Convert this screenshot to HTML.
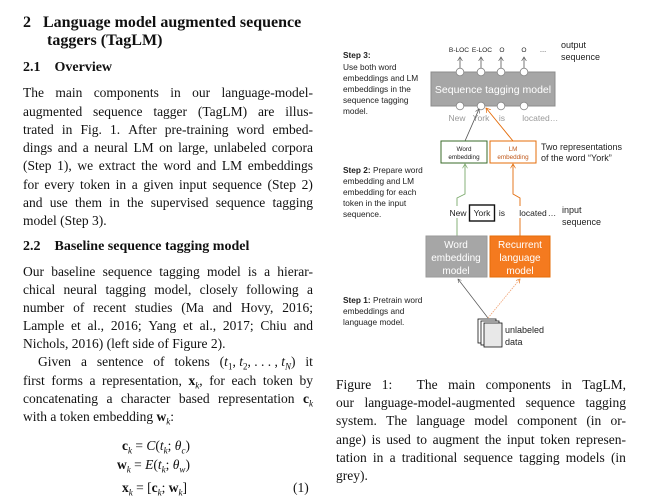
<!DOCTYPE html>
<html><head><meta charset="utf-8"><style>
body{margin:0;width:653px;height:498px;background:#fff;position:relative;overflow:hidden;font-family:"Liberation Serif",serif;color:#111}
.l{position:absolute;font-size:13.5px;line-height:18px;height:18px;white-space:nowrap}
.j{position:absolute;font-size:13.5px;line-height:18px;height:18px;white-space:nowrap;display:flex;justify-content:space-between}
.b{font-weight:bold}
sub{font-size:9px;line-height:0}
svg text{font-family:"Liberation Sans",sans-serif}
</style></head><body>
<div class="l b" style="left:23px;top:14px;font-size:16px">2&nbsp;&nbsp;&nbsp;Language model augmented sequence</div>
<div class="l b" style="left:47px;top:32px;font-size:16px">taggers (TagLM)</div>
<div class="l b" style="left:23px;top:59px;font-size:14px">2.1&nbsp;&nbsp;&nbsp;&nbsp;Overview</div>
<div class="j" style="left:23px;width:290px;top:84px"><span>The</span><span>main</span><span>components</span><span>in</span><span>our</span><span>language-model-</span></div>
<div class="j" style="left:23px;width:290px;top:103px"><span>augmented</span><span>sequence</span><span>tagger</span><span>(TagLM)</span><span>are</span><span>illus-</span></div>
<div class="j" style="left:23px;width:290px;top:121px"><span>trated</span><span>in</span><span>Fig.</span><span>1.</span><span>After</span><span>pre-training</span><span>word</span><span>embed-</span></div>
<div class="j" style="left:23px;width:290px;top:139px"><span>dings</span><span>and</span><span>a</span><span>neural</span><span>LM</span><span>on</span><span>large,</span><span>unlabeled</span><span>corpora</span></div>
<div class="j" style="left:23px;width:290px;top:157px"><span>(Step</span><span>1),</span><span>we</span><span>extract</span><span>the</span><span>word</span><span>and</span><span>LM</span><span>embeddings</span></div>
<div class="j" style="left:23px;width:290px;top:176px"><span>for</span><span>every</span><span>token</span><span>in</span><span>a</span><span>given</span><span>input</span><span>sequence</span><span>(Step</span><span>2)</span></div>
<div class="j" style="left:23px;width:290px;top:194px"><span>and</span><span>use</span><span>them</span><span>in</span><span>the</span><span>supervised</span><span>sequence</span><span>tagging</span></div>
<div class="l" style="left:23px;top:212px">model (Step 3).</div>
<div class="l b" style="left:23px;top:238px;font-size:14px">2.2&nbsp;&nbsp;&nbsp;&nbsp;Baseline sequence tagging model</div>
<div class="j" style="left:23px;width:290px;top:263px"><span>Our</span><span>baseline</span><span>sequence</span><span>tagging</span><span>model</span><span>is</span><span>a</span><span>hierar-</span></div>
<div class="j" style="left:23px;width:290px;top:281px"><span>chical</span><span>neural</span><span>tagging</span><span>model,</span><span>closely</span><span>following</span><span>a</span></div>
<div class="j" style="left:23px;width:290px;top:299px"><span>number</span><span>of</span><span>recent</span><span>studies</span><span>(Ma</span><span>and</span><span>Hovy,</span><span>2016;</span></div>
<div class="j" style="left:23px;width:290px;top:317px"><span>Lample</span><span>et</span><span>al.,</span><span>2016;</span><span>Yang</span><span>et</span><span>al.,</span><span>2017;</span><span>Chiu</span><span>and</span></div>
<div class="l" style="left:23px;top:335px">Nichols, 2016) (left side of Figure 2).</div>
<div class="j" style="left:38px;width:275px;top:353px"><span>Given</span><span>a</span><span>sentence</span><span>of</span><span>tokens</span><span>(<i>t</i><sub>1</sub>,&nbsp;<i>t</i><sub>2</sub>,&nbsp;.&nbsp;.&nbsp;.&nbsp;,&nbsp;<i>t</i><sub><i>N</i></sub>)</span><span>it</span></div>
<div class="j" style="left:23px;width:290px;top:372px"><span>first</span><span>forms</span><span>a</span><span>representation,</span><span><b>x</b><sub><i>k</i></sub>,</span><span>for</span><span>each</span><span>token</span><span>by</span></div>
<div class="j" style="left:23px;width:290px;top:390px"><span>concatenating</span><span>a</span><span>character</span><span>based</span><span>representation</span><span><b>c</b><sub><i>k</i></sub></span></div>
<div class="l" style="left:23px;top:408px">with a token embedding <b>w</b><sub><i>k</i></sub>:</div>
<div class="l" style="left:122px;top:437px"><b>c</b><sub><i>k</i></sub> = <i>C</i>(<i>t<sub>k</sub></i>; <i>θ<sub>c</sub></i>)</div>
<div class="l" style="left:117px;top:456px"><b>w</b><sub><i>k</i></sub> = <i>E</i>(<i>t<sub>k</sub></i>; <i>θ<sub>w</sub></i>)</div>
<div class="l" style="left:122px;top:479px"><b>x</b><sub><i>k</i></sub> = [<b>c</b><sub><i>k</i></sub>; <b>w</b><sub><i>k</i></sub>]</div>
<div class="l" style="left:293px;top:479px">(1)</div>

<div class="j" style="left:336px;width:290px;top:376px"><span>Figure</span><span>1:</span><span>&nbsp;</span><span>The</span><span>main</span><span>components</span><span>in</span><span>TagLM,</span></div>
<div class="j" style="left:336px;width:290px;top:394px"><span>our</span><span>language-model-augmented</span><span>sequence</span><span>tagging</span></div>
<div class="j" style="left:336px;width:290px;top:412px"><span>system.</span><span>The</span><span>language</span><span>model</span><span>component</span><span>(in</span><span>or-</span></div>
<div class="j" style="left:336px;width:290px;top:431px"><span>ange)</span><span>is</span><span>used</span><span>to</span><span>augment</span><span>the</span><span>input</span><span>token</span><span>represen-</span></div>
<div class="j" style="left:336px;width:290px;top:449px"><span>tation</span><span>in</span><span>a</span><span>traditional</span><span>sequence</span><span>tagging</span><span>models</span><span>(in</span></div>
<div class="l" style="left:336px;top:467px">grey).</div>

<svg style="position:absolute;left:0;top:0" width="653" height="498" font-size="8.3">
<defs>
<marker id="ag" markerWidth="6" markerHeight="6" refX="5" refY="3" orient="auto"><path d="M0,0 L5,3 L0,6" fill="none" stroke="#555" stroke-width="0.8"/></marker>
<marker id="ao" markerWidth="6" markerHeight="6" refX="5" refY="3" orient="auto"><path d="M0,0 L5,3 L0,6" fill="none" stroke="#e46c0a" stroke-width="0.8"/></marker>
<marker id="agr" markerWidth="6" markerHeight="6" refX="5" refY="3" orient="auto"><path d="M0,0 L5,3 L0,6" fill="none" stroke="#7aa86a" stroke-width="0.8"/></marker>
</defs>
<g fill="#222">
<text x="343" y="58" font-weight="bold">Step 3:</text>
<text x="343" y="70">Use both word</text>
<text x="343" y="81">embeddings and LM</text>
<text x="343" y="92">embeddings in the</text>
<text x="343" y="103">sequence tagging</text>
<text x="343" y="114">model.</text>
<text x="343" y="173"><tspan font-weight="bold">Step 2:</tspan> Prepare word</text>
<text x="343" y="184">embedding and LM</text>
<text x="343" y="195">embedding for each</text>
<text x="343" y="206">token in the input</text>
<text x="343" y="217">sequence.</text>
<text x="343" y="303"><tspan font-weight="bold">Step 1:</tspan> Pretrain word</text>
<text x="343" y="314">embeddings and</text>
<text x="343" y="325">language model.</text>
<text x="561" y="48" font-size="9">output</text>
<text x="561" y="60" font-size="9">sequence</text>
<text x="541" y="150" font-size="9">Two representations</text>
<text x="541" y="161" font-size="9">of the word “York”</text>
<text x="562" y="213" font-size="9">input</text>
<text x="562" y="225" font-size="9">sequence</text>
<text x="505" y="333" font-size="9">unlabeled</text>
<text x="505" y="345" font-size="9">data</text>
</g>
<g font-size="6.6" text-anchor="middle" fill="#222">
<text x="459" y="52">B-LOC</text><text x="482" y="52">E-LOC</text><text x="502" y="52">O</text><text x="524" y="52">O</text><text x="543" y="52">…</text>
</g>
<g stroke="#555" stroke-width="0.8" fill="none">
<line x1="460" y1="68" x2="460" y2="57" marker-end="url(#ag)"/>
<line x1="481" y1="68" x2="481" y2="57" marker-end="url(#ag)"/>
<line x1="501" y1="68" x2="501" y2="57" marker-end="url(#ag)"/>
<line x1="524" y1="68" x2="524" y2="57" marker-end="url(#ag)"/>
</g>
<rect x="431" y="72" width="124" height="34" fill="#a6a6a6" stroke="#8c8c8c"/>
<text x="493" y="93" font-size="10.5" fill="#fff" text-anchor="middle">Sequence tagging model</text>
<g fill="#fff" stroke="#888" stroke-width="0.8">
<circle cx="460" cy="72" r="3.8"/><circle cx="481" cy="72" r="3.8"/><circle cx="501" cy="72" r="3.8"/><circle cx="524" cy="72" r="3.8"/>
<circle cx="460" cy="106" r="3.8"/><circle cx="481" cy="106" r="3.8"/><circle cx="501" cy="106" r="3.8"/><circle cx="524" cy="106" r="3.8"/>
</g>
<g font-size="8.5" fill="#999" text-anchor="middle">
<text x="457" y="121">New</text><text x="481" y="121">York</text><text x="502" y="121">is</text><text x="536" y="121">located</text><text x="554" y="121">…</text>
</g>
<line x1="465" y1="141" x2="479" y2="109" stroke="#555" stroke-width="0.8" marker-end="url(#ag)"/>
<line x1="513" y1="141" x2="486" y2="108" stroke="#e46c0a" stroke-width="0.9" marker-end="url(#ao)"/>
<rect x="441" y="141" width="46" height="22" fill="#fff" stroke="#3a6b2a" stroke-width="1"/>
<text x="464" y="151" font-size="6.3" text-anchor="middle" fill="#222">Word</text>
<text x="464" y="159" font-size="6.3" text-anchor="middle" fill="#222">embedding</text>
<rect x="490" y="141" width="46" height="22" fill="#fff" stroke="#e46c0a" stroke-width="1"/>
<text x="513" y="151" font-size="6.3" text-anchor="middle" fill="#c0581a">LM</text>
<text x="513" y="159" font-size="6.3" text-anchor="middle" fill="#c0581a">embedding</text>
<polyline points="457,236 457,198 465,194 465,164" fill="none" stroke="#7aa86a" stroke-width="0.9" marker-end="url(#agr)"/>
<polyline points="520,236 520,198 513,194 513,164" fill="none" stroke="#e46c0a" stroke-width="0.9" marker-end="url(#ao)"/>
<rect x="447" y="206" width="12" height="12" fill="#fff"/>
<rect x="517" y="206" width="30" height="12" fill="#fff"/>
<g font-size="8.5" fill="#222" text-anchor="middle">
<text x="458" y="216">New</text><text x="482" y="216">York</text><text x="502" y="216">is</text><text x="533" y="216">located</text><text x="552" y="216">…</text>
</g>
<rect x="469.5" y="205" width="25" height="16" fill="none" stroke="#111" stroke-width="1.4"/>
<rect x="426" y="236" width="61" height="41" fill="#a6a6a6" stroke="#999"/>
<g font-size="10" fill="#fff" text-anchor="middle">
<text x="456" y="248">Word</text><text x="456" y="261">embedding</text><text x="456" y="274">model</text>
</g>
<rect x="490" y="236" width="60" height="41" fill="#f47a1f" stroke="#e46c0a"/>
<g font-size="10" fill="#fff" text-anchor="middle">
<text x="520" y="248">Recurrent</text><text x="520" y="261">language</text><text x="520" y="274">model</text>
</g>
<line x1="488" y1="318" x2="458" y2="279" stroke="#555" stroke-width="0.7" marker-end="url(#ag)"/>
<line x1="488" y1="318" x2="520" y2="279" stroke="#f0a070" stroke-width="0.8" stroke-dasharray="1.5,1" marker-end="url(#ao)"/>
<g stroke="#111" stroke-width="0.8" fill="#fff">
<rect x="478" y="319" width="18" height="24"/>
<rect x="481" y="321" width="18" height="24"/>
<rect x="484" y="323" width="18" height="24" fill="#e8e8e8"/>
</g>
</svg>
</body></html>
